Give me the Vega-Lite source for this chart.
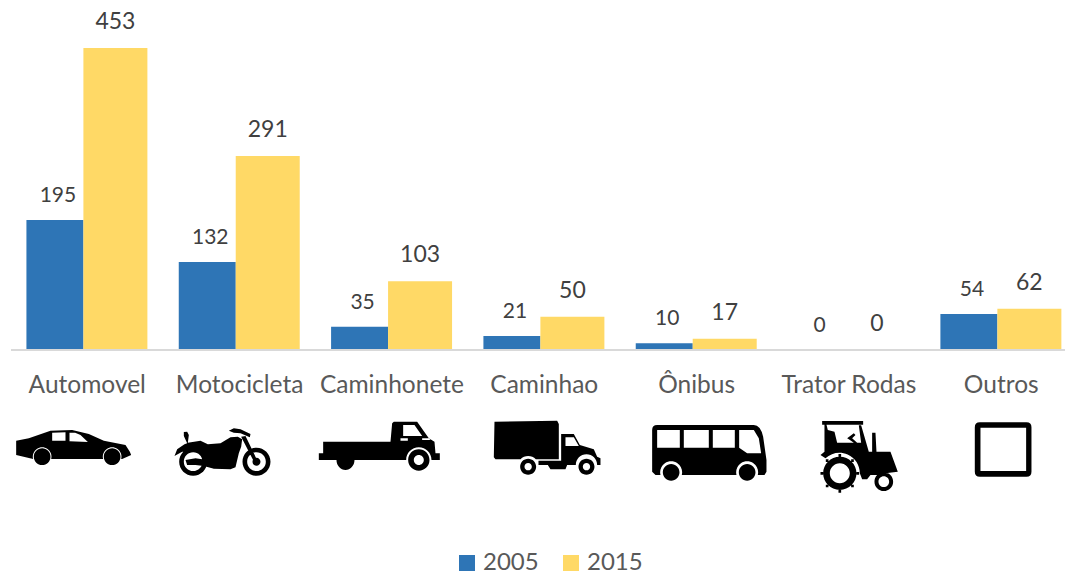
{
"$schema":"https://vega.github.io/schema/vega-lite/v6.json",
"autosize":{"type":"none"},
"padding":{"left":11,"top":0,"right":0,"bottom":227},
"width":1054,"height":350,
"background":"white",
"config":{"view":{"stroke":null},"font":"Lato"},
"datasets":{
"v":[
{"c":"Automovel","a":"2005","v":195},{"c":"Automovel","a":"2015","v":453},
{"c":"Motocicleta","a":"2005","v":132},{"c":"Motocicleta","a":"2015","v":291},
{"c":"Caminhonete","a":"2005","v":35},{"c":"Caminhonete","a":"2015","v":103},
{"c":"Caminhao","a":"2005","v":21},{"c":"Caminhao","a":"2015","v":50},
{"c":"Ônibus","a":"2005","v":10},{"c":"Ônibus","a":"2015","v":17},
{"c":"Trator Rodas","a":"2005","v":0},{"c":"Trator Rodas","a":"2015","v":0},
{"c":"Outros","a":"2005","v":54},{"c":"Outros","a":"2015","v":62}
],
"icons":[{"c":"Automovel"},{"c":"Motocicleta"},{"c":"Caminhonete"},{"c":"Caminhao"},{"c":"Ônibus"},{"c":"Trator Rodas"},{"c":"Outros"}]
},
"encoding":{
"x":{"field":"c","type":"nominal","sort":null,
"scale":{"domain":["Automovel","Motocicleta","Caminhonete","Caminhao","Ônibus","Trator Rodas","Outros"],"range":[-2,1064.3],"paddingInner":0.206,"paddingOuter":0.103},
"axis":{"title":null,"domain":false,"ticks":false,"labelAngle":0,"labelFontSize":24.5,"labelColor":"#595959","labelPadding":35,"labelOffset":2.1,"labelLimit":300,"labelBaseline":"middle","grid":false}}
},
"layer":[
{"data":{"name":"v"},"transform":[{"filter":"datum.a==='2005'"}],"mark":{"type":"bar","size":57},
"encoding":{
"xOffset":{"field":"a","type":"nominal","scale":{"domain":["2005","2015"],"paddingInner":0,"paddingOuter":0}},
"y":{"field":"v","type":"quantitative","scale":{"domain":[0,525],"nice":false,"zero":false},"axis":null},
"color":{"field":"a","type":"nominal","scale":{"domain":["2005","2015"],"range":["#2E75B6","#FFD966"]},
"legend":{"title":null,"orient":"none","legendX":444,"legendY":551,"direction":"horizontal","columns":2,"symbolType":"square","symbolSize":256,"symbolStrokeWidth":0,"labelFontSize":24,"labelColor":"#595959","labelOffset":4,"columnPadding":20,"padding":0}}
}},
{"data":{"name":"v"},"transform":[{"filter":"datum.a==='2015'"}],"mark":{"type":"bar","size":64},
"encoding":{
"xOffset":{"field":"a","type":"nominal","scale":{"domain":["2005","2015"],"paddingInner":0,"paddingOuter":0}},
"y":{"field":"v","type":"quantitative","axis":null},
"color":{"field":"a","type":"nominal","scale":{"domain":["2005","2015"],"range":["#2E75B6","#FFD966"]}}
}},
{"data":{"name":"v"},"mark":{"type":"rule","stroke":"#D9D9D9","strokeWidth":2},"encoding":{"x":{"value":0},"x2":{"value":1054},"y":{"datum":0}}},
{"data":{"name":"v"},"transform":[{"filter":"datum.a==='2005'"}],"mark":{"type":"text","fontSize":21,"color":"#404040","baseline":"middle","dy":-24,"dx":3},
"encoding":{"xOffset":{"field":"a","type":"nominal","scale":{"domain":["2005","2015"],"paddingInner":0,"paddingOuter":0}},"y":{"field":"v","type":"quantitative"},"text":{"field":"v","type":"quantitative"}}},
{"data":{"name":"v"},"transform":[{"filter":"datum.a==='2015'"}],"mark":{"type":"text","fontSize":23,"color":"#404040","baseline":"middle","dy":-26},
"encoding":{"xOffset":{"field":"a","type":"nominal","scale":{"domain":["2005","2015"],"paddingInner":0,"paddingOuter":0}},"y":{"field":"v","type":"quantitative"},"text":{"field":"v","type":"quantitative"}}},
{"data":{"name":"icons"},"mark":{"type":"point","filled":true,"color":"#000000","opacity":1,"size":0.4444,"strokeWidth":0},
"encoding":{"y":{"datum":-150},
"shape":{"field":"c","type":"nominal","legend":null,"scale":{"domain":["Automovel","Motocicleta","Caminhonete","Caminhao","Ônibus","Trator Rodas","Outros"],"range":[
"M-207,-28 L-169,-35 L-104,-58 L-39,-60 L11,-48 L56,-28 L121,-15 L134,5 L138,15 L111,27 L108,27 A28,28 0 1 0 54,27 L-102,27 A28,28 0 1 0 -156,27 L-207,15 Z M-99,-52 L-99,-28 L-59,-28 L-59,-53 Z M-47,-52 L-47,-26 L8,-24 L-14,-45 L-30,-52 Z M56,20 A25,25 0 1 1 106,20 A25,25 0 1 1 56,20 Z M-154,20 A25,25 0 1 1 -104,20 A25,25 0 1 1 -154,20 Z",
"M-189,18 L-181,-2 L-159,-17 L-151,-20 L-161,-42 L-161,-54 L-151,-55 L-146,-45 L-149,-22 L-111,-28 L-89,-17 L-51,-20 L-21,-38 L1,-40 L14,-32 L11,-10 L4,10 L-6,52 L-21,58 L-71,56 L-101,48 L-126,45 L-151,45 L-156,30 L-126,25 L-106,28 L-111,10 L-141,2 L-166,5 Z M-26,-58 L-11,-65 L9,-62 L39,-48 L37,-38 L9,-50 L-11,-52 Z M11,-40 L24,-42 L61,35 L51,38 Z M-175,35 A42,42 0 1 1 -91,35 A42,42 0 1 1 -175,35 Z M-161,35 A28,28 0 1 0 -105,35 A28,28 0 1 0 -161,35 Z M15,35 A42,42 0 1 1 99,35 A42,42 0 1 1 15,35 Z M29,35 A28,28 0 1 0 85,35 A28,28 0 1 0 29,35 Z M45,35 A12,12 0 1 1 69,35 A12,12 0 1 1 45,35 Z",
"M-200,-25 L2,-25 L7,-80 L12,-85 L82,-85 L117,-35 L134,-25 L137,10 L150,10 L150,30 L125,30 A38,38 0 0 0 49,30 L-213,30 L-213,10 L-200,10 Z M40,-75 L40,-42 L97,-42 L74,-75 Z M32,-35 L32,-28 L54,-28 L54,-35 Z M97,-35 L97,-30 L122,-30 L117,-35 Z M55,30 A32,32 0 1 1 119,30 A32,32 0 1 1 55,30 Z M72,30 A15,15 0 1 0 102,30 A15,15 0 1 0 72,30 Z M-106,30 A27,30 0 0 1 -160,30 Z",
"M-143,-85 L45,-88 L50,-78 L50,28 L-19,28 A32,32 0 0 0 -65,28 L-140,28 L-145,22 Z M57,-48 L95,-48 L113,-15 L155,-2 L165,20 L175,25 L175,45 L165,45 A32,32 0 1 0 101,45 L75,45 L70,58 L25,58 L17,45 L-11,45 L-11,32 L57,32 Z M70,-38 L70,-12 L110,-12 L95,-38 Z M-66,50 A24,24 0 1 1 -18,50 A24,24 0 1 1 -66,50 Z M-53,50 A11,11 0 1 0 -31,50 A11,11 0 1 0 -53,50 Z M109,50 A24,24 0 1 1 157,50 A24,24 0 1 1 109,50 Z M122,50 A11,11 0 1 0 144,50 A11,11 0 1 0 122,50 Z",
"M-127,-60 Q-127,-75 -112,-75 L178,-75 Q198,-75 206,-40 L216,30 L216,65 L210,75 L190,75 A33,33 0 1 0 126,75 L-38,75 A33,33 0 1 0 -102,75 L-117,75 L-127,65 Z M-112,-60 L-112,-7 L-44,-7 L-44,-60 Z M-32,-60 L-32,-7 L43,-7 L43,-60 Z M55,-60 L55,-7 L121,-7 L121,-60 Z M134,-60 L134,-7 L158,10 L200,10 L193,-35 L178,-60 Z M-95,67 A25,25 0 1 1 -45,67 A25,25 0 1 1 -95,67 Z M133,67 A25,25 0 1 1 183,67 A25,25 0 1 1 133,67 Z",
"M-79,15 L-67,5 L-67,-76 L-61,-76 L-57,-60 L-37,-55 L-29,-22 L43,-22 L36,-74 L43,-74 L66,5 L76,5 L76,-52 L86,-52 L89,5 L131,5 L153,65 L116,70 L96,75 L71,75 L61,88 L46,88 L39,70 A61,61 0 0 0 -64,25 Z M-74,-87 L49,-87 L49,-76 L-74,-76 Z M1,-35 L21,-50 L26,-45 L16,-35 L31,-22 L21,-22 L6,-32 Z M-71,70 A50,50 0 1 1 29,70 A50,50 0 1 1 -71,70 Z M-51,70 A30,30 0 1 0 9,70 A30,30 0 1 0 -51,70 Z M83,95 A28,28 0 1 1 139,95 A28,28 0 1 1 83,95 Z M95,95 A16,16 0 1 0 127,95 A16,16 0 1 0 95,95 Z M29,66 L37,66 L37,74 L29,74 Z M-79,66 L-71,66 L-71,74 L-79,74 Z M-25,12 L-17,12 L-17,20 L-25,20 Z M-25,120 L-17,120 L-17,128 L-25,128 Z M13,28 L21,28 L21,36 L13,36 Z M-63,28 L-55,28 L-55,36 L-63,36 Z M13,104 L21,104 L21,112 L13,112 Z M-63,104 L-55,104 L-55,112 L-63,112 Z",
"M-58,-83 L82,-83 Q97,-83 97,-68 L97,65 Q97,80 82,80 L-58,80 Q-73,80 -73,65 L-73,-68 Q-73,-83 -58,-83 Z M-56,-67 L-56,63 L81,63 L81,-67 Z"
]}}}}
]
}
